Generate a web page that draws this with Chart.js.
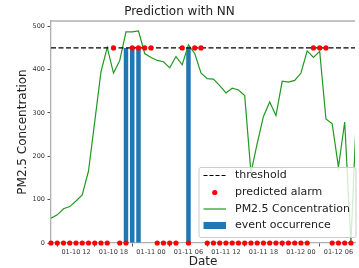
<!DOCTYPE html>
<html>
<head>
<meta charset="utf-8">
<script src="https://cdn.jsdelivr.net/npm/chart.js@4.4.1/dist/chart.umd.min.js"></script>
<style>
html, body { margin: 0; padding: 0; background: #fff; }
canvas { display: block; }
</style>
</head>
<body>
<canvas id="nnChart" width="359" height="268"></canvas>
<script>
// one reading per hour, hours counted from 01-10 00:00, first reading at 08:00
var startHour = 8;
var pm25 = [57, 65, 79, 84, 97, 111, 166, 280, 395, 451,
            392, 421, 487, 487, 489, 437, 428, 421, 418, 404,
            430, 411, 457, 437, 392, 379, 378, 363, 346, 357,
            353, 340, 162, 230, 292, 325, 294, 373, 371, 375,
            392, 443, 428, 442, 286, 275, 175, 279, 0, 340];
// 1 = alarm predicted for that hour
var alarm = [0, 0, 0, 0, 0, 0, 0, 0, 0, 0,
             1, 0, 0, 1, 1, 1, 1, 0, 0, 0,
             0, 1, 0, 1, 1, 0, 0, 0, 0, 0,
             0, 0, 0, 0, 0, 0, 0, 0, 0, 0,
             0, 0, 1, 1, 1, 0, 0, 0, 0];
var eventHours = [20, 21, 22, 30];
var threshold = 450;
var xTicks = [12, 18, 24, 30, 36, 42, 48, 54];
var yTicks = [0, 100, 200, 300, 400, 500];

var FONT = 'DejaVu Sans';

function dateLabel(h) {
    var d = 10 + Math.floor(h / 24);
    var hh = h % 24;
    return '01-' + d + ' ' + (hh < 10 ? '0' : '') + hh;
}

var pmPoints = pm25.map(function (v, i) { return { x: startHour + i, y: v }; });
var alarmPoints = alarm.map(function (a, i) { return { x: startHour + i, y: a ? threshold : 0 }; });
var eventPoints = eventHours.map(function (h) { return { x: h, y: threshold }; });
var lastHour = startHour + pm25.length - 1;

// top spine + legend box drawn over the plot, lower right, like matplotlib's
var legendBox = {
    id: 'legendBox',
    afterDatasetsDraw: function (chart) {
        var a = chart.chartArea, ctx = chart.ctx;
        ctx.save();
        ctx.strokeStyle = '#b0b0b0';
        ctx.lineWidth = 1.3;
        ctx.beginPath();
        ctx.moveTo(a.left, a.top);
        ctx.lineTo(a.right, a.top);
        ctx.stroke();
        ctx.restore();
    },
    afterDraw: function (chart) {
        var ctx = chart.ctx;
        var ds = chart.data.datasets;
        var bx = 199, by = 167.5, bw = 157, bh = 70;
        ctx.save();
        ctx.beginPath();
        ctx.roundRect(bx, by, bw, bh, 2);
        ctx.fillStyle = 'rgba(255,255,255,0.8)';
        ctx.fill();
        ctx.strokeStyle = '#cccccc';
        ctx.lineWidth = 1;
        ctx.stroke();

        var x0 = 203.5, x1 = 226, tx = 235;
        var rows = [175.5, 192.5, 209, 225.5];
        // threshold
        ctx.strokeStyle = ds[1].borderColor;
        ctx.lineWidth = ds[1].borderWidth;
        ctx.setLineDash([4, 2]);
        ctx.beginPath(); ctx.moveTo(x0, rows[0]); ctx.lineTo(x1, rows[0]); ctx.stroke();
        ctx.setLineDash([]);
        // predicted alarm
        ctx.fillStyle = ds[0].backgroundColor;
        ctx.beginPath(); ctx.arc((x0 + x1) / 2, rows[1], ds[0].pointRadius, 0, Math.PI * 2); ctx.fill();
        // PM2.5
        ctx.strokeStyle = ds[2].borderColor;
        ctx.lineWidth = ds[2].borderWidth;
        ctx.beginPath(); ctx.moveTo(x0, rows[2]); ctx.lineTo(x1, rows[2]); ctx.stroke();
        // event
        ctx.fillStyle = ds[3].backgroundColor;
        ctx.fillRect(x0, rows[3] - 3.5, x1 - x0, 7);

        ctx.fillStyle = '#222';
        ctx.font = '11px "' + FONT + '"';
        ctx.textBaseline = 'middle';
        var order = [1, 0, 2, 3];
        for (var i = 0; i < 4; i++) {
            ctx.fillText(ds[order[i]].label, tx, rows[i]);
        }
        ctx.restore();
    }
};

var ctx = document.getElementById('nnChart').getContext('2d');
var nnChart = new Chart(ctx, {
    type: 'line',
    data: {
        datasets: [{
            type: 'scatter',
            label: 'predicted alarm',
            data: alarmPoints,
            backgroundColor: '#ff0000',
            borderColor: '#ff0000',
            pointRadius: 2.6,
            pointBorderWidth: 0,
            showLine: false,
            clip: false,
            order: 0
        }, {
            label: 'threshold',
            data: [{ x: startHour, y: threshold }, { x: lastHour, y: threshold }],
            borderColor: '#000000',
            borderWidth: 1.1,
            borderDash: [5, 2.5],
            pointRadius: 0,
            order: 1
        }, {
            label: 'PM2.5 Concentration',
            data: pmPoints,
            borderColor: '#229922',
            borderWidth: 1.2,
            pointRadius: 0,
            tension: 0,
            order: 2
        }, {
            type: 'bar',
            label: 'event occurrence',
            data: eventPoints,
            backgroundColor: '#1f77b4',
            borderWidth: 0,
            categoryPercentage: 1,
            barPercentage: 0.72,
            order: 3
        }]
    },
    options: {
        responsive: false,
        animation: false,
        devicePixelRatio: 1,
        layout: { padding: 0 },
        plugins: {
            legend: { display: false },
            tooltip: { enabled: false },
            title: {
                display: true,
                text: 'Prediction with NN',
                color: '#222',
                font: { family: FONT, size: 12, weight: 'normal' },
                padding: { top: 4.5, bottom: 2.1 }
            }
        },
        scales: {
            x: {
                type: 'linear',
                offset: false,
                min: startHour,
                max: 56.65,
                afterBuildTicks: function (s) { s.ticks = xTicks.map(function (v) { return { value: v }; }); },
                afterFit: function (s) { s.height = 25; },
                ticks: {
                    autoSkip: false,
                    maxRotation: 0,
                    padding: 1.5,
                    color: '#333',
                    font: { family: FONT, size: 6.5 },
                    callback: function (v) { return dateLabel(v); }
                },
                grid: { drawOnChartArea: false, drawTicks: true, tickLength: 3.5, tickColor: '#555' },
                border: { display: true, color: '#b0b0b0', width: 1.3 },
                title: {
                    display: true,
                    text: 'Date',
                    color: '#222',
                    font: { family: FONT, size: 12, lineHeight: 1 },
                    padding: { top: 0, bottom: 0 }
                }
            },
            y: {
                min: 0,
                max: 512,
                afterBuildTicks: function (s) { s.ticks = yTicks.map(function (v) { return { value: v }; }); },
                afterFit: function (s) { s.width = 51; },
                ticks: {
                    padding: 2.5,
                    color: '#333',
                    font: { family: FONT, size: 6.5 }
                },
                grid: { drawOnChartArea: false, drawTicks: true, tickLength: 3.5, tickColor: '#555' },
                border: { display: true, color: '#b0b0b0', width: 1.3 },
                title: {
                    display: true,
                    text: 'PM2.5 Concentration',
                    color: '#222',
                    font: { family: FONT, size: 12 },
                    padding: { top: 15.6, bottom: 0 }
                }
            }
        }
    },
    plugins: [legendBox]
});
</script>
</body>
</html>
